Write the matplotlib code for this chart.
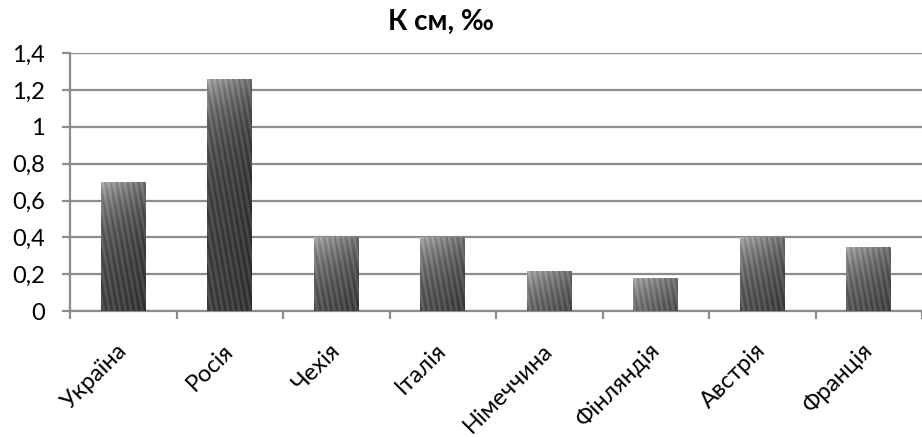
import numpy as np
import matplotlib
matplotlib.use("Agg")
import matplotlib.pyplot as plt

# дані з діаграми
countries = ["Україна", "Росія", "Чехія", "Італія", "Німеччина",
             "Фінляндія", "Австрія", "Франція"]
k_sm = [0.70, 1.26, 0.40, 0.40, 0.22, 0.18, 0.40, 0.35]
y_ticks = [0, 0.2, 0.4, 0.6, 0.8, 1.0, 1.2, 1.4]
y_labels = ["0", "0,2", "0,4", "0,6", "0,8", "1", "1,2", "1,4"]
title = "К см, ‰"

plt.rcParams['font.family'] = ['Lato', 'DejaVu Sans']

fig = plt.figure(figsize=(9.22, 4.37), dpi=100)
ax = fig.add_axes([0.076, 0.288, 0.924, 0.590])

x = np.arange(len(countries))
bars = ax.bar(x, k_sm, width=0.42, color='#3a3a3a', zorder=2)

# смугаста текстура з градієнтом, як у Excel
for b in bars:
    x0, w, h = b.get_x(), b.get_width(), b.get_height()
    ny = max(int(round(h / 1.4 * 258)), 2) * 2
    nx = 90
    yy, xx = np.mgrid[0:ny, 0:nx] / 2.0
    yd = yy / 258 * 1.4  # відстань від верху в одиницях даних
    xf = xx / 45
    light = 0.38 * np.exp(-yd / 0.22) * (1 - 0.4 * xf)
    stripes = 0.06 * np.sin(2 * np.pi * (xx - 0.18 * yy) / 5.5)
    img = np.clip(0.22 + light + stripes + 0.05 * (1 - xf), 0, 1)
    im = ax.imshow(img, cmap='gray', vmin=0, vmax=1, aspect='auto',
                   extent=(x0, x0 + w, 0, h), origin='upper', zorder=3,
                   interpolation='antialiased')
    im.set_clip_path(b)

ax.set_xlim(-0.5, len(countries) - 0.5)
ax.set_ylim(0, 1.4)

ax.set_yticks(y_ticks)
ax.set_yticklabels(y_labels, fontsize=17)
ax.yaxis.grid(True, color='#8c8c8c', linewidth=1.6, zorder=1)
ax.set_axisbelow(True)

ax.set_xticks(np.arange(len(countries) + 1) - 0.5)
ax.set_xticklabels([])
ax.set_xticks(x, minor=True)
ax.set_xticklabels(countries, minor=True, rotation=45, ha='right',
                   rotation_mode='anchor', fontsize=17, va='center')
ax.tick_params(axis='x', which='minor', length=0, pad=26)
ax.tick_params(axis='x', which='major', length=6, width=1.6, color='#8c8c8c')
ax.tick_params(axis='y', length=6, width=1.6, color='#8c8c8c', pad=12)

for s in ['top', 'right']:
    ax.spines[s].set_visible(False)
for s in ['left', 'bottom']:
    ax.spines[s].set_color('#8c8c8c')
    ax.spines[s].set_linewidth(1.6)

fig.text(441 / 922, 1 - 22 / 437, title, fontsize=20, fontweight='bold',
         ha='center', va='center')

fig.savefig("out.png", dpi=100)
